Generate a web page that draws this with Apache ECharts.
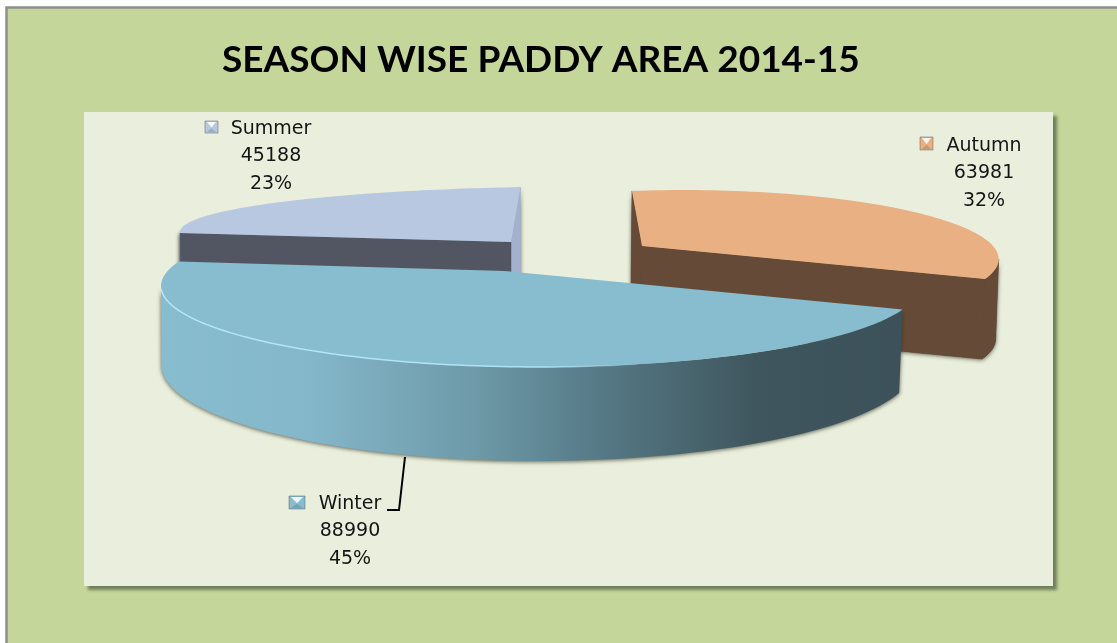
<!DOCTYPE html>
<html>
<head>
<meta charset="utf-8">
<style>html,body{margin:0;padding:0;background:#fff;overflow:hidden}#c{width:1117px;height:643px}</style>
<script src="https://cdn.jsdelivr.net/npm/echarts@6/dist/echarts.min.js"></script>
</head>
<body>
<div id="c"></div>
<script>
var titleText = 'SEASON WISE PADDY AREA 2014-15';
var seasons = ['Autumn', 'Winter', 'Summer'];
var areas = [63981, 88990, 45188];

var firstAngle = 260.7;
var total = areas.reduce(function (a, b) { return a + b; }, 0);

// Fake-3D projection of each exploded slice: style only, angles come from the data.
var looks = {
  Autumn: { z: 10, apex: [642, 246], c: [683, 259], r: [315.7, 69], drop: [-3, 80], sideDrop: [-1, 95],
    top: '#e8b083', wall: '#654b37', side: '#654b37', bevel: 0,
    key: [920, 137, 13, 13], keyColor: '#e8b083', lx: 984, ly: [146, 173, 201] },
  Winter: { z: 30, apex: [505, 271], c: [540, 286], r: [379, 81], bottom: { c: [538.5, 365], r: [377, 96] },
    top: '#88bccf', bevel: 19,
    key: [289, 496, 16, 13], keyColor: '#88bccf', lx: 350, ly: [504, 531, 559],
    leader: [[405, 457], [399, 510], [387, 510]] },
  Summer: { z: 20, apex: [511, 242], c: [586, 232], r: [406, 45.5], drop: [0, 60], sideDrop: [0, 85],
    top: '#b8c8e0', wall: '#515662', side: '#a3b1cc', bevel: 0,
    key: [205, 121, 13, 12], keyColor: '#b8c8e0', lx: 271, ly: [129, 156, 184] }
};

var rad = Math.PI / 180;
function pt(c, r, deg) { return [c[0] + r[0] * Math.cos(deg * rad), c[1] + r[1] * Math.sin(deg * rad)]; }
function arc(c, r, a, b) {
  var out = [], n = 80;
  for (var i = 0; i <= n; i++) out.push(pt(c, r, a + (b - a) * i / n));
  return out;
}
function shift(p, d) { return [p[0] + d[0], p[1] + d[1]]; }
var shadow = { shadowBlur: 4, shadowColor: 'rgba(50,50,35,0.75)', shadowOffsetY: 1 };

function renderSlice(params, api) {
  var i = params.dataIndex, value = api.value(0), name = seasons[i], L = looks[name];
  var before = 0;
  for (var k = 0; k < i; k++) before += areas[k];
  var a0 = (firstAngle + before / total * 360) % 360, a1 = a0 + value / total * 360;
  var kids = [];
  var startP = pt(L.c, L.r, a0), endP = pt(L.c, L.r, a1);

  // a wall piece: a shadow-casting copy underneath, a clean copy on top so no seams show
  function wall(points, fill, z) {
    kids.push({ type: 'polygon', z2: L.z - 1, shape: { points: points }, style: Object.assign({ fill: fill }, shadow) });
    kids.push({ type: 'polygon', z2: z, shape: { points: points }, style: { fill: fill, stroke: fill, lineWidth: 0.5 } });
  }

  if (name === 'Winter') {
    var upper = arc(L.c, L.r, a0, 180);
    var lower = arc(L.bottom.c, L.bottom.r, a0, 180).reverse();
    kids.push({ type: 'polygon', z2: L.z, shape: { points: upper.concat(lower) },
      style: Object.assign({ fill: new echarts.graphic.LinearGradient(161, 0, 903, 0, [
        { offset: 0, color: '#88bccf' }, { offset: 0.2, color: '#84b7ca' }, { offset: 0.42, color: '#6e9aa9' },
        { offset: 0.6, color: '#557884' }, { offset: 0.8, color: '#3f565e' }, { offset: 1, color: '#3c5159' }
      ], true) }, shadow) });
  } else {
    var dn = L.drop, sd = L.sideDrop;
    wall([startP, L.apex, shift(L.apex, dn), shift(startP, sd)], L.side, L.z);
    wall(name === 'Summer'
      ? [L.apex, startP, shift(startP, dn), shift(L.apex, dn)]
      : [L.apex, endP, shift(endP, dn), shift(L.apex, dn)], L.wall, L.z + 1);
    if (name === 'Summer') {
      wall([endP, L.apex, shift(L.apex, sd), shift(endP, sd)], L.side, L.z);
    }
    if (name === 'Autumn') {
      var outer = arc(L.c, L.r, 360, a1);
      wall(outer.concat(outer.map(function (p) { return shift(p, dn); }).reverse()), L.wall, L.z + 1);
    }
  }

  var surface = arc(L.c, L.r, a0, a1 + L.bevel);
  surface.push(L.apex);
  kids.push({ type: 'polygon', z2: L.z + 2, shape: { points: surface }, style: { fill: L.top } });

  if (name === 'Winter') {
    kids.push({ type: 'polyline', z2: L.z + 3, shape: { points: arc(L.c, L.r, 72, 178) },
      style: { fill: 'none', lineWidth: 1.5, stroke: new echarts.graphic.LinearGradient(161, 0, 640, 0, [
        { offset: 0, color: '#b4e8f6' }, { offset: 0.8, color: '#aee2f2' }, { offset: 1, color: 'rgba(174,226,242,0)' }
      ], true) } });
    kids.push({ type: 'polyline', z2: 40, shape: { points: L.leader },
      style: { fill: 'none', stroke: '#000', lineWidth: 2 } });
  }

  // data label: key, name, value, percent
  var K = L.key;
  kids.push({ type: 'rect', z2: 41, shape: { x: K[0], y: K[1], width: K[2], height: K[3] },
    style: { fill: L.keyColor, stroke: 'rgba(80,80,80,0.45)', lineWidth: 1 } });
  kids.push({ type: 'polygon', z2: 42,
    shape: { points: [[K[0] + 2, K[1] + 1], [K[0] + K[2] - 2, K[1] + 1], [K[0] + K[2] / 2, K[1] + K[3] * 0.55]] },
    style: { fill: 'rgba(255,255,255,0.85)' } });
  kids.push({ type: 'polygon', z2: 42,
    shape: { points: [[K[0] + 2, K[1] + K[3] - 1], [K[0] + K[2] - 2, K[1] + K[3] - 1], [K[0] + K[2] / 2, K[1] + K[3] * 0.6]] },
    style: { fill: 'rgba(60,60,60,0.2)' } });
  var lines = [name, String(value), Math.round(value / total * 100) + '%'];
  lines.forEach(function (t, n) {
    kids.push({ type: 'text', z2: 43, style: {
      text: t, x: L.lx, y: L.ly[n], fill: '#151515', align: 'center', verticalAlign: 'middle',
      font: '19px "DejaVu Sans"' } });
  });
  return { type: 'group', children: kids };
}

var chart = echarts.init(document.getElementById('c'), null, { renderer: 'canvas', width: 1117, height: 643 });
chart.setOption({
  animation: false,
  backgroundColor: '#ffffff',
  title: { text: titleText, left: 217, top: 37,
    textStyle: { fontFamily: 'Lato', fontWeight: 'bold', fontSize: 37, color: '#000' } },
  graphic: [
    { type: 'rect', z: 0, shape: { x: 6.5, y: 7.5, width: 1300, height: 800 },
      style: { fill: '#c5d69b', stroke: '#8e8e8e', lineWidth: 2.5 } },
    { type: 'rect', z: 1, shape: { x: 84, y: 112, width: 969, height: 474 },
      style: { fill: '#eaefdd', shadowBlur: 3, shadowOffsetX: 4, shadowOffsetY: 4, shadowColor: '#6f7f5a' } }
  ],
  series: [{
    type: 'custom',
    coordinateSystem: 'none',
    silent: true,
    renderItem: renderSlice,
    data: areas.map(function (v) { return [v]; })
  }]
});
</script>
</body>
</html>
